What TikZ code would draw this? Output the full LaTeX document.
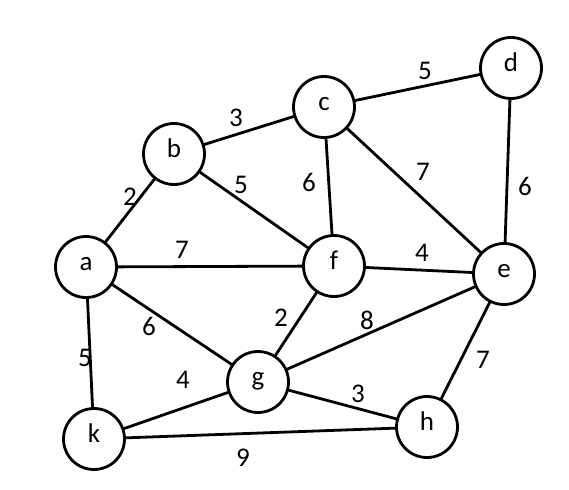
\documentclass[tikz,border=0pt]{standalone}
\usepackage{fontspec}
\setmainfont{Carlito}
\tikzset{
  vertex/.style={draw, circle, line width=2.8pt, minimum size=61pt, inner sep=0pt,
    text height=0.72em, text depth=0.08em},
  weight/.style={inner sep=0pt}
}
\begin{document}
\begin{tikzpicture}[x=1pt, y=-1pt, line width=2.8pt, line join=round, line cap=round,
  font=\fontsize{27}{31}\selectfont]
			\useasboundingbox (0,0) rectangle (569,489);
			% vertices
			\foreach \n/\x/\y in {a/86/267, b/174/154, c/324/107, d/511/68, e/504/274,
				f/334/266, g/258/382, h/427/427, k/94/439}
			\node[vertex] (\n) at (\x,\y) {\n};
			% edges
			\foreach \u/\v in {a/b, b/c, c/d, b/f, c/f, c/e, d/e, a/f, f/e, a/g,
				f/g, g/e, a/k, k/g, g/h, e/h, k/h}
			\draw (\u) -- (\v);
			% weights
			\foreach \w/\x/\y [count=\i] in {5/425/71, 3/236/118, 2/130/197, 5/241/185,
				6/309/182, 7/423/172, 6/525/186, 7/182/250, 4/422/253, 6/149/326,
				2/281/318, 8/367/320, 5/85/358, 4/183/380, 3/358/394, 7/483/360, 9/243/458}
			\node[weight] (w\i) at (\x,\y) {\w};
		\end{tikzpicture}
\end{document}
